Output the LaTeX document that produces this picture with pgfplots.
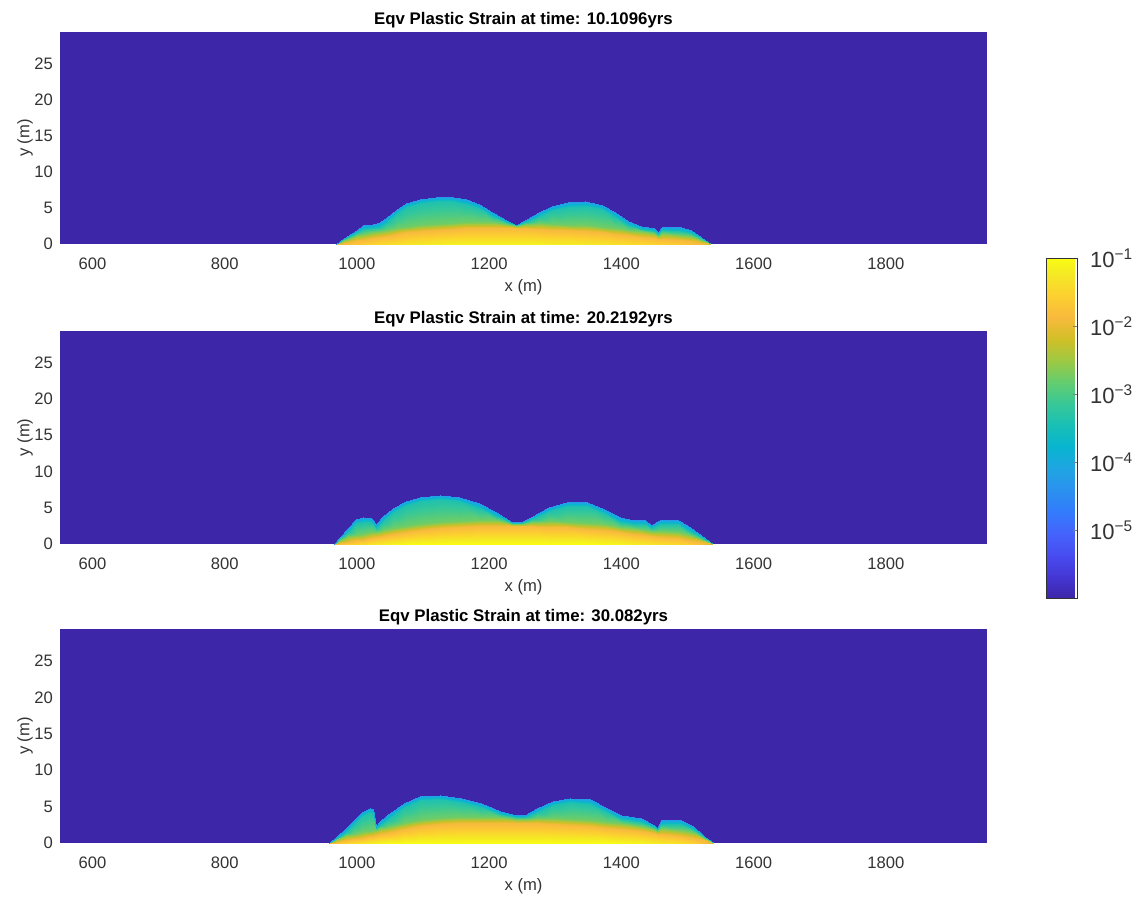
\documentclass[border=0pt]{standalone}
\usepackage{fontspec}
\setmainfont{Liberation Sans}
\usepackage{pgfplots}
\pgfplotsset{compat=1.18}
\definecolor{txt}{rgb}{0.2,0.2,0.2}
\definecolor{bg}{rgb}{0.2422,0.1504,0.6603}
\newcommand{\pw}[1]{10\textsuperscript{−#1}}
\pgfplotsset{
  colormap={parula}{
    rgb(0pt)=(0.2422,0.1504,0.6603)
    rgb(4pt)=(0.2706,0.2147,0.8364)
    rgb(8pt)=(0.2813,0.3006,0.9414)
    rgb(12pt)=(0.2699,0.3892,0.9906)
    rgb(16pt)=(0.1963,0.4847,0.9892)
    rgb(20pt)=(0.1687,0.5703,0.9359)
    rgb(24pt)=(0.1248,0.6459,0.8883)
    rgb(28pt)=(0.0297,0.7082,0.8163)
    rgb(32pt)=(0.0964,0.7500,0.7120)
    rgb(36pt)=(0.2161,0.7843,0.5923)
    rgb(40pt)=(0.3909,0.8029,0.4354)
    rgb(44pt)=(0.6174,0.7876,0.2612)
    rgb(48pt)=(0.8203,0.7498,0.1535)
    rgb(52pt)=(0.9728,0.7298,0.2394)
    rgb(56pt)=(0.9892,0.8136,0.1885)
    rgb(60pt)=(0.9597,0.9135,0.1423)
    rgb(63pt)=(0.9769,0.9839,0.0805)
  },
  panel/.style={
    scale only axis, width=463.5pt,
    xmin=551, xmax=1953, ymin=0, ymax=29.4,
    axis background/.style={fill=bg},
    axis line style={draw=none},
    major tick length=0pt,
    xtick={600,800,...,1800}, ytick={0,5,...,25},
    tick label style={font=\fontsize{8.3}{10}\selectfont, text=txt},
    xticklabel shift=3.5pt,
    /pgf/number format/assume math mode=true,
    /pgf/number format/1000 sep={},
    xlabel={x (m)}, ylabel={y (m)},
    ylabel shift=-6pt, xlabel shift=-2pt,
    label style={font=\fontsize{8.3}{10}\selectfont, text=txt},
    title style={font=\bfseries\fontsize{8.4}{10}\selectfont, text=black, yshift=-7.5pt},
    colormap name=parula,
    point meta min=-6, point meta max=-1,
  },
  strain/.style={surf, shader=interp, point meta=explicit, mesh/ordering=y varies},
}
\begin{document}
\begin{tikzpicture}
\path[use as bounding box] (0,0) rectangle (572.5pt,-448pt);
% ---------- panel 1 ----------
\begin{axis}[panel, at={(30pt,-122pt)}, anchor=south west, height=106pt,
  title={Eqv Plastic Strain at time: 10.1096yrs}]
\addplot[strain] coordinates {
(968,0)[-2.2] (968,0)[-1.9] (968,0)[-2.75] (968,0)[-3.4] (968,0)[-4.3]

(980,0)[-1.9] (980,0.2)[-1.9] (980,0.5)[-2.75] (980,0.65)[-3.4] (980,0.8)[-4.3]

(990,0)[-1.8] (990,0.3)[-1.9] (990,0.85)[-2.75] (990,1.1)[-3.4] (990,1.4)[-4.3]

(1000,0)[-1.7] (1000,0.5)[-1.9] (1000,1.25)[-2.75] (1000,1.6)[-3.4] (1000,2.0)[-4.3]

(1010,0)[-1.6] (1010,0.6)[-1.9] (1010,1.4)[-2.75] (1010,2.1)[-3.4] (1010,2.7)[-4.3]

(1025,0)[-1.5] (1025,0.8)[-1.9] (1025,1.6)[-2.75] (1025,2.2)[-3.4] (1025,2.8)[-4.3]

(1035,0)[-1.45] (1035,1.0)[-1.9] (1035,1.8)[-2.75] (1035,2.4)[-3.4] (1035,3.0)[-4.3]

(1045,0)[-1.4] (1045,1.1)[-1.9] (1045,1.9)[-2.75] (1045,3.1)[-3.4] (1045,3.7)[-4.3]

(1060,0)[-1.35] (1060,1.4)[-1.9] (1060,2.2)[-2.75] (1060,4.3)[-3.4] (1060,4.9)[-4.3]

(1075,0)[-1.3] (1075,1.6)[-1.9] (1075,2.4)[-2.75] (1075,5.1)[-3.4] (1075,5.7)[-4.3]

(1095,0)[-1.25] (1095,1.8)[-1.9] (1095,2.6)[-2.75] (1095,5.7)[-3.4] (1095,6.3)[-4.3]

(1120,0)[-1.2] (1120,2.0)[-1.9] (1120,2.8)[-2.75] (1120,5.9)[-3.4] (1120,6.5)[-4.3]

(1145,0)[-1.15] (1145,2.1)[-1.9] (1145,2.9)[-2.75] (1145,5.9)[-3.4] (1145,6.5)[-4.3]

(1165,0)[-1.15] (1165,2.2)[-1.9] (1165,3.0)[-2.75] (1165,5.6)[-3.4] (1165,6.2)[-4.3]

(1185,0)[-1.15] (1185,2.2)[-1.9] (1185,3.0)[-2.75] (1185,5.0)[-3.4] (1185,5.6)[-4.3]

(1205,0)[-1.15] (1205,2.2)[-1.9] (1205,3.0)[-2.75] (1205,3.9)[-3.4] (1205,4.5)[-4.3]

(1225,0)[-1.15] (1225,2.2)[-1.9] (1225,2.75)[-2.75] (1225,3.0)[-3.4] (1225,3.3)[-4.3]

(1240,0)[-1.15] (1240,2.2)[-1.9] (1240,2.45)[-2.75] (1240,2.58)[-3.4] (1240,2.7)[-4.3]

(1255,0)[-1.15] (1255,2.2)[-1.9] (1255,2.8)[-2.75] (1255,3.1)[-3.4] (1255,3.4)[-4.3]

(1275,0)[-1.15] (1275,2.1)[-1.9] (1275,2.9)[-2.75] (1275,3.9)[-3.4] (1275,4.5)[-4.3]

(1295,0)[-1.2] (1295,2.0)[-1.9] (1295,2.8)[-2.75] (1295,4.7)[-3.4] (1295,5.3)[-4.3]

(1320,0)[-1.2] (1320,1.9)[-1.9] (1320,2.7)[-2.75] (1320,5.2)[-3.4] (1320,5.8)[-4.3]

(1345,0)[-1.25] (1345,1.8)[-1.9] (1345,2.6)[-2.75] (1345,5.3)[-3.4] (1345,5.9)[-4.3]

(1370,0)[-1.3] (1370,1.6)[-1.9] (1370,2.4)[-2.75] (1370,4.8)[-3.4] (1370,5.4)[-4.3]

(1390,0)[-1.35] (1390,1.4)[-1.9] (1390,2.2)[-2.75] (1390,3.8)[-3.4] (1390,4.4)[-4.3]

(1410,0)[-1.4] (1410,1.2)[-1.9] (1410,2.0)[-2.75] (1410,2.6)[-3.4] (1410,3.2)[-4.3]

(1430,0)[-1.45] (1430,1.0)[-1.9] (1430,1.75)[-2.75] (1430,2.1)[-3.4] (1430,2.5)[-4.3]

(1450,0)[-1.5] (1450,0.8)[-1.9] (1450,1.5)[-2.75] (1450,1.85)[-3.4] (1450,2.2)[-4.3]

(1456,0)[-1.55] (1456,0.7)[-1.9] (1456,1.15)[-2.75] (1456,1.4)[-3.4] (1456,1.6)[-4.3]

(1462,0)[-1.55] (1462,0.7)[-1.9] (1462,1.5)[-2.75] (1462,1.95)[-3.4] (1462,2.4)[-4.3]

(1490,0)[-1.65] (1490,0.5)[-1.9] (1490,1.3)[-2.75] (1490,1.85)[-3.4] (1490,2.4)[-4.3]

(1505,0)[-1.75] (1505,0.35)[-1.9] (1505,1.1)[-2.75] (1505,1.5)[-3.4] (1505,1.9)[-4.3]

(1520,0)[-1.9] (1520,0.2)[-1.9] (1520,0.6)[-2.75] (1520,0.8)[-3.4] (1520,1.0)[-4.3]

(1535,0)[-2.2] (1535,0)[-1.9] (1535,0)[-2.75] (1535,0)[-3.4] (1535,0)[-4.3]
};
\end{axis}
% ---------- panel 2 ----------
\begin{axis}[panel, at={(30pt,-272pt)}, anchor=south west, height=106.5pt,
  title={Eqv Plastic Strain at time: 20.2192yrs}]
\addplot[strain] coordinates {
(965,0)[-2.2] (965,0)[-1.9] (965,0)[-2.75] (965,0)[-3.4] (965,0)[-4.3]

(975,0)[-1.8] (975,0.2)[-1.9] (975,0.6)[-2.75] (975,0.8)[-3.4] (975,1.0)[-4.3]

(986,0)[-1.6] (986,0.3)[-1.9] (986,1.1)[-2.75] (986,1.65)[-3.4] (986,2.2)[-4.3]

(998,0)[-1.5] (998,0.5)[-1.9] (998,1.3)[-2.75] (998,2.9)[-3.4] (998,3.5)[-4.3]

(1010,0)[-1.4] (1010,0.6)[-1.9] (1010,1.4)[-2.75] (1010,3.1)[-3.4] (1010,3.7)[-4.3]

(1022,0)[-1.3] (1022,0.8)[-1.9] (1022,1.6)[-2.75] (1022,3.0)[-3.4] (1022,3.6)[-4.3]

(1029,0)[-1.25] (1029,0.9)[-1.9] (1029,1.7)[-2.75] (1029,2.25)[-3.4] (1029,2.8)[-4.3]

(1040,0)[-1.2] (1040,1.1)[-1.9] (1040,1.9)[-2.75] (1040,3.2)[-3.4] (1040,3.8)[-4.3]

(1055,0)[-1.1] (1055,1.4)[-1.9] (1055,2.2)[-2.75] (1055,4.4)[-3.4] (1055,5.0)[-4.3]

(1075,0)[-1.05] (1075,1.7)[-1.9] (1075,2.5)[-2.75] (1075,5.4)[-3.4] (1075,6.0)[-4.3]

(1095,0)[-1.0] (1095,2.0)[-1.9] (1095,2.8)[-2.75] (1095,5.9)[-3.4] (1095,6.5)[-4.3]

(1125,0)[-1.0] (1125,2.2)[-1.9] (1125,3.0)[-2.75] (1125,6.2)[-3.4] (1125,6.8)[-4.3]

(1155,0)[-1.0] (1155,2.4)[-1.9] (1155,3.2)[-2.75] (1155,5.9)[-3.4] (1155,6.5)[-4.3]

(1185,0)[-1.0] (1185,2.5)[-1.9] (1185,3.3)[-2.75] (1185,5.0)[-3.4] (1185,5.6)[-4.3]

(1210,0)[-1.0] (1210,2.5)[-1.9] (1210,3.3)[-2.75] (1210,3.85)[-3.4] (1210,4.4)[-4.3]

(1235,0)[-1.0] (1235,2.5)[-1.9] (1235,2.8)[-2.75] (1235,2.95)[-3.4] (1235,3.1)[-4.3]

(1248,0)[-1.0] (1248,2.5)[-1.9] (1248,2.8)[-2.75] (1248,2.95)[-3.4] (1248,3.1)[-4.3]

(1263,0)[-1.0] (1263,2.5)[-1.9] (1263,3.1)[-2.75] (1263,3.4)[-3.4] (1263,3.7)[-4.3]

(1290,0)[-1.0] (1290,2.4)[-1.9] (1290,3.2)[-2.75] (1290,4.5)[-3.4] (1290,5.1)[-4.3]

(1318,0)[-1.0] (1318,2.3)[-1.9] (1318,3.1)[-2.75] (1318,5.2)[-3.4] (1318,5.8)[-4.3]

(1348,0)[-1.0] (1348,2.1)[-1.9] (1348,2.9)[-2.75] (1348,5.2)[-3.4] (1348,5.8)[-4.3]

(1373,0)[-1.05] (1373,1.9)[-1.9] (1373,2.7)[-2.75] (1373,4.3)[-3.4] (1373,4.9)[-4.3]

(1398,0)[-1.1] (1398,1.6)[-1.9] (1398,2.4)[-2.75] (1398,3.1)[-3.4] (1398,3.7)[-4.3]

(1418,0)[-1.2] (1418,1.4)[-1.9] (1418,2.2)[-2.75] (1418,2.75)[-3.4] (1418,3.3)[-4.3]

(1436,0)[-1.25] (1436,1.2)[-1.9] (1436,2.0)[-2.75] (1436,2.7)[-3.4] (1436,3.3)[-4.3]

(1445,0)[-1.3] (1445,1.1)[-1.9] (1445,1.85)[-2.75] (1445,2.2)[-3.4] (1445,2.6)[-4.3]

(1458,0)[-1.35] (1458,1.0)[-1.9] (1458,1.8)[-2.75] (1458,2.7)[-3.4] (1458,3.3)[-4.3]

(1485,0)[-1.45] (1485,0.8)[-1.9] (1485,1.6)[-2.75] (1485,2.7)[-3.4] (1485,3.3)[-4.3]

(1500,0)[-1.55] (1500,0.6)[-1.9] (1500,1.4)[-2.75] (1500,2.0)[-3.4] (1500,2.6)[-4.3]

(1520,0)[-1.8] (1520,0.3)[-1.9] (1520,0.75)[-2.75] (1520,0.98)[-3.4] (1520,1.2)[-4.3]

(1538,0)[-2.2] (1538,0)[-1.9] (1538,0)[-2.75] (1538,0)[-3.4] (1538,0)[-4.3]
};
\end{axis}
% ---------- panel 3 ----------
\begin{axis}[panel, at={(30pt,-421.5pt)}, anchor=south west, height=107pt,
  title={Eqv Plastic Strain at time: 30.082yrs}]
\addplot[strain] coordinates {
(958,0)[-2.2] (958,0)[-1.9] (958,0)[-2.75] (958,0)[-3.4] (958,0)[-4.3]

(970,0)[-1.7] (970,0.2)[-1.9] (970,0.55)[-2.75] (970,0.72)[-3.4] (970,0.9)[-4.3]

(983,0)[-1.5] (983,0.35)[-1.9] (983,1.1)[-2.75] (983,1.55)[-3.4] (983,2.0)[-4.3]

(995,0)[-1.4] (995,0.5)[-1.9] (995,1.3)[-2.75] (995,2.6)[-3.4] (995,3.2)[-4.3]

(1008,0)[-1.3] (1008,0.7)[-1.9] (1008,1.5)[-2.75] (1008,3.7)[-3.4] (1008,4.3)[-4.3]

(1020,0)[-1.2] (1020,0.9)[-1.9] (1020,1.7)[-2.75] (1020,4.2)[-3.4] (1020,4.8)[-4.3]

(1024,0)[-1.2] (1024,1.0)[-1.9] (1024,1.8)[-2.75] (1024,4.1)[-3.4] (1024,4.7)[-4.3]

(1029,0)[-1.15] (1029,1.1)[-1.9] (1029,1.75)[-2.75] (1029,2.08)[-3.4] (1029,2.4)[-4.3]

(1035,0)[-1.1] (1035,1.2)[-1.9] (1035,2.0)[-2.75] (1035,2.5)[-3.4] (1035,3.0)[-4.3]

(1046,0)[-1.05] (1046,1.4)[-1.9] (1046,2.2)[-2.75] (1046,3.2)[-3.4] (1046,3.8)[-4.3]

(1071,0)[-1.0] (1071,1.9)[-1.9] (1071,2.7)[-2.75] (1071,4.9)[-3.4] (1071,5.5)[-4.3]

(1096,0)[-1.0] (1096,2.3)[-1.9] (1096,3.1)[-2.75] (1096,5.9)[-3.4] (1096,6.5)[-4.3]

(1126,0)[-1.0] (1126,2.6)[-1.9] (1126,3.4)[-2.75] (1126,6.0)[-3.4] (1126,6.6)[-4.3]

(1157,0)[-1.0] (1157,2.8)[-1.9] (1157,3.6)[-2.75] (1157,5.6)[-3.4] (1157,6.2)[-4.3]

(1187,0)[-1.0] (1187,2.8)[-1.9] (1187,3.6)[-2.75] (1187,4.9)[-3.4] (1187,5.5)[-4.3]

(1217,0)[-1.0] (1217,2.8)[-1.9] (1217,3.6)[-2.75] (1217,4.0)[-3.4] (1217,4.4)[-4.3]

(1240,0)[-1.0] (1240,2.8)[-1.9] (1240,3.3)[-2.75] (1240,3.55)[-3.4] (1240,3.8)[-4.3]

(1255,0)[-1.0] (1255,2.8)[-1.9] (1255,3.35)[-2.75] (1255,3.62)[-3.4] (1255,3.9)[-4.3]

(1273,0)[-1.0] (1273,2.7)[-1.9] (1273,3.5)[-2.75] (1273,4.2)[-3.4] (1273,4.8)[-4.3]

(1297,0)[-1.0] (1297,2.6)[-1.9] (1297,3.4)[-2.75] (1297,5.2)[-3.4] (1297,5.8)[-4.3]

(1323,0)[-1.0] (1323,2.5)[-1.9] (1323,3.3)[-2.75] (1323,5.6)[-3.4] (1323,6.2)[-4.3]

(1353,0)[-1.0] (1353,2.3)[-1.9] (1353,3.1)[-2.75] (1353,5.4)[-3.4] (1353,6.0)[-4.3]

(1379,0)[-1.0] (1379,2.1)[-1.9] (1379,2.9)[-2.75] (1379,4.2)[-3.4] (1379,4.8)[-4.3]

(1399,0)[-1.05] (1399,1.9)[-1.9] (1399,2.7)[-2.75] (1399,3.3)[-3.4] (1399,3.9)[-4.3]

(1429,0)[-1.1] (1429,1.6)[-1.9] (1429,2.4)[-2.75] (1429,2.9)[-3.4] (1429,3.4)[-4.3]

(1449,0)[-1.2] (1449,1.4)[-1.9] (1449,1.95)[-2.75] (1449,2.22)[-3.4] (1449,2.5)[-4.3]

(1454,0)[-1.2] (1454,1.3)[-1.9] (1454,1.7)[-2.75] (1454,1.9)[-3.4] (1454,2.1)[-4.3]

(1460,0)[-1.25] (1460,1.3)[-1.9] (1460,2.1)[-2.75] (1460,2.65)[-3.4] (1460,3.2)[-4.3]

(1490,0)[-1.35] (1490,1.0)[-1.9] (1490,1.8)[-2.75] (1490,2.6)[-3.4] (1490,3.2)[-4.3]

(1509,0)[-1.5] (1509,0.7)[-1.9] (1509,1.5)[-2.75] (1509,1.9)[-3.4] (1509,2.3)[-4.3]

(1525,0)[-1.8] (1525,0.35)[-1.9] (1525,0.7)[-2.75] (1525,0.85)[-3.4] (1525,1.0)[-4.3]

(1540,0)[-2.2] (1540,0)[-1.9] (1540,0)[-2.75] (1540,0)[-3.4] (1540,0)[-4.3]
};
\end{axis}
% ---------- colorbar ----------
\begin{axis}[at={(523pt,-129pt)}, anchor=north west, hide axis, scale only axis,
  width=0pt, height=0pt, colormap name=parula,
  point meta min=-6, point meta max=-1,
  colorbar,
  colorbar style={
    at={(parent axis.north west)}, anchor=north west, xshift=-8.5pt,
    scale only axis, width=15.5pt, height=170pt,
    ytick={-5,-4,-3,-2,-1},
    yticklabels={\pw{5},\pw{4},\pw{3},\pw{2},\pw{1}},
    yticklabel pos=right, ytick pos=right, tick align=inside,
    major tick length=2pt,
    yticklabel style={font=\fontsize{11}{13}\selectfont, text=txt, xshift=3pt},
    axis line style={black!80, line width=0.5pt},
  }]
\addplot[draw=none] coordinates {(0,0)};
\end{axis}
\end{tikzpicture}
\end{document}
